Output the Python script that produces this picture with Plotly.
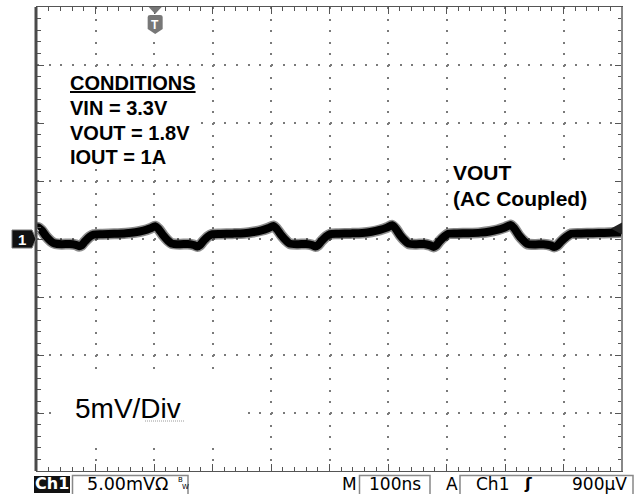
import plotly.graph_objects as go

# ---------------- data ----------------
time_ns = [0, 2, 8, 16, 24, 30, 42, 56, 66, 72, 76, 82, 90, 97, 112, 132, 152, 168, 182, 194,
           202, 208, 216, 224, 230, 244, 258, 268, 274, 278, 284, 292, 299, 314, 334, 354, 370, 384, 396,
           404, 410, 418, 426, 432, 446, 460, 470, 476, 480, 486, 494, 501, 516, 536, 556, 572, 586, 598,
           607, 613, 621, 629, 635, 648, 662, 672, 678, 682, 688, 696, 703, 718, 738, 758, 774, 788, 800,
           810, 816, 824, 832, 838, 852, 866, 878, 884, 889, 896, 905, 913, 930, 950, 970, 990, 1000]
vout_mv = [0.95, 1.0, 0.75, 0.2, -0.2, -0.38, -0.45, -0.43, -0.5, -0.62, -0.55, -0.2, 0.2, 0.38, 0.42, 0.45, 0.5, 0.58, 0.72, 0.92,
           1.1, 0.85, 0.3, -0.15, -0.38, -0.45, -0.43, -0.52, -0.65, -0.55, -0.2, 0.2, 0.4, 0.43, 0.46, 0.5, 0.6, 0.75, 0.95,
           1.12, 0.85, 0.3, -0.15, -0.4, -0.45, -0.43, -0.52, -0.65, -0.55, -0.2, 0.2, 0.42, 0.45, 0.48, 0.52, 0.62, 0.78, 0.98,
           1.18, 0.9, 0.3, -0.15, -0.4, -0.45, -0.43, -0.55, -0.68, -0.58, -0.2, 0.2, 0.45, 0.48, 0.5, 0.55, 0.65, 0.8, 1.0,
           1.2, 0.9, 0.3, -0.15, -0.42, -0.47, -0.45, -0.55, -0.68, -0.58, -0.2, 0.2, 0.45, 0.48, 0.5, 0.52, 0.55, 0.58]

x_range_ns = [0, 1000]      # 10 div x 100 ns/div
y_range_mv = [-20, 20]      # 8 div x 5 mV/div
x_div_ns = 100
y_div_mv = 5
trigger_time_ns = 202
trigger_level_mv = 0.9
ch1_offset_mv = 0

condition_lines = ["CONDITIONS", "VIN = 3.3V", "VOUT = 1.8V", "IOUT = 1A"]
trace_label = ["VOUT", "(AC Coupled)"]
scale_label = "5mV/Div"
status_ch = "Ch1"
status_vdiv = "5.00mVΩ"
status_mode = "M"
status_time = "100ns"
status_trig_mode = "A"
status_trig_src = "Ch1"
status_trig_level = "900µV"

# ---------------- layout geometry ----------------
W, H = 635, 494
L, R, T, B = 37, 622, 7, 471


def px(x):
    return (x - L) / (R - L)


def py(y):
    return (B - y) / (B - T)


ARIAL = "Liberation Sans, Arial, sans-serif"
SCOPE = "DejaVu Sans, sans-serif"

fig = go.Figure()
fig.add_trace(go.Scatter(x=time_ns, y=vout_mv, mode="lines",
                         line=dict(color="rgba(0,0,0,0.45)", width=11, shape="spline", smoothing=0.7),
                         hoverinfo="skip", showlegend=False))
fig.add_trace(go.Scatter(x=time_ns, y=vout_mv, mode="lines",
                         line=dict(color="#000000", width=8, shape="spline", smoothing=0.7),
                         showlegend=False))

axis_common = dict(showline=True, linecolor="#555", linewidth=1, mirror="ticks",
                   showticklabels=False, zeroline=False,
                   ticks="inside", ticklen=7, tickcolor="#555", tickwidth=1,
                   gridcolor="#7a7a7a", gridwidth=2)
fig.update_xaxes(range=x_range_ns, dtick=x_div_ns, tick0=0, griddash="2px,9.6px",
                 minor=dict(dtick=x_div_ns / 5, ticks="inside", ticklen=4, tickcolor="#555", showgrid=False),
                 **axis_common)
fig.update_yaxes(range=y_range_mv, dtick=y_div_mv, tick0=0, griddash="2px,9.7px",
                 minor=dict(dtick=y_div_mv / 5, ticks="inside", ticklen=4, tickcolor="#555", showgrid=False),
                 **axis_common)

shapes = []
# white boxes behind the text labels
for (x0, y0, x1, y1) in [(45, 70, 200, 165), (450, 160, 612, 213), (52, 378, 245, 442)]:
    shapes.append(dict(type="rect", xref="paper", yref="paper", x0=px(x0), x1=px(x1),
                       y0=py(y1), y1=py(y0), fillcolor="white", line=dict(width=0), layer="above"))
# thick left border and slightly heavier right border
shapes.append(dict(type="line", xref="paper", yref="paper", x0=px(36), x1=px(36), y0=0, y1=1,
                   line=dict(color="#4a4a4a", width=3), layer="above"))
shapes.append(dict(type="line", xref="paper", yref="paper", x0=1, x1=1, y0=0, y1=1,
                   line=dict(color="#888", width=2), layer="above"))
# spell-check squiggle under "Div"
shapes.append(dict(type="line", xref="paper", yref="paper", x0=px(145), x1=px(185), y0=py(421), y1=py(421),
                   line=dict(color="#9a9a9a", width=1, dash="1px,1px"), layer="above"))
# channel 1 ground marker
shapes.append(dict(type="path", xref="paper", yref="y", xsizemode="pixel", ysizemode="pixel",
                   xanchor=0, yanchor=ch1_offset_mv,
                   path="M-25,9 L-5,9 L-1,0 L-5,-9 L-25,-9 Z",
                   fillcolor="#111", line=dict(color="#777", width=1), layer="above"))
# trigger level marker on the right edge
shapes.append(dict(type="path", xref="x", yref="y", xsizemode="pixel", ysizemode="pixel",
                   xanchor=x_range_ns[1], yanchor=trigger_level_mv,
                   path="M0,6 L0,-6 L-11,0 Z", fillcolor="#222", line=dict(width=0), layer="above"))
# trigger position marker "T"
shapes.append(dict(type="path", xref="x", yref="paper", xsizemode="pixel", ysizemode="pixel",
                   xanchor=trigger_time_ns, yanchor=1,
                   path="M-6.5,0 L6.5,0 L0,-7 Z", fillcolor="#777", line=dict(width=0), layer="above"))
shapes.append(dict(type="path", xref="x", yref="paper", xsizemode="pixel", ysizemode="pixel",
                   xanchor=trigger_time_ns, yanchor=1,
                   path="M-7.5,-10 Q-7.5,-8 -5,-8 L5,-8 Q7.5,-8 7.5,-10 L7.5,-22 L0,-27 L-7.5,-22 Z",
                   fillcolor="#777", line=dict(width=0), layer="above"))
# status bar boxes
shapes.append(dict(type="rect", xref="paper", yref="paper", x0=px(34), x1=px(70), y0=py(493), y1=py(476),
                   fillcolor="#111", line=dict(width=0)))
for (x0, x1) in [(72.5, 188), (359.5, 430), (460, 633)]:
    shapes.append(dict(type="rect", xref="paper", yref="paper", x0=px(x0), x1=px(x1), y0=py(496), y1=py(475.5),
                       fillcolor="rgba(0,0,0,0)", line=dict(color="#888", width=1.5)))

ann = []


def text(x, y, s, size, family=ARIAL, color="black", xanchor="left", bold=False):
    ann.append(dict(xref="paper", yref="paper", x=px(x), y=py(y), text=("<b>%s</b>" % s) if bold else s,
                    showarrow=False, xanchor=xanchor, yanchor="middle",
                    font=dict(family=family, size=size, color=color)))


text(68, 83, "<u>%s</u>" % condition_lines[0], 20, bold=True)
text(68, 108, condition_lines[1], 20, bold=True)
text(68, 132.5, condition_lines[2], 20, bold=True)
text(68, 156.5, condition_lines[3], 20, bold=True)
text(451, 172, trace_label[0], 21, bold=True)
text(451, 198, trace_label[1], 21, bold=True)
text(73, 408, scale_label, 28)

# marker glyphs
ann.append(dict(xref="paper", yref="y", x=0, y=ch1_offset_mv, xshift=-15, text="<b>1</b>", showarrow=False,
                xanchor="center", yanchor="middle", font=dict(family=ARIAL, size=15, color="white")))
ann.append(dict(xref="x", yref="paper", x=trigger_time_ns, y=1, yshift=-17.5, text="<b>T</b>", showarrow=False,
                xanchor="center", yanchor="middle", font=dict(family=ARIAL, size=12, color="white")))

# status bar
text(52, 484, status_ch, 16, family=SCOPE, color="white", xanchor="center", bold=True)
text(85, 484, status_vdiv, 17.5, family=SCOPE)
text(176, 480, "B", 7, family=SCOPE)
text(180, 487, "W", 7, family=SCOPE)
text(349.5, 484, status_mode, 17, family=SCOPE, xanchor="center")
text(395, 484, status_time, 17, family=SCOPE, xanchor="center")
text(452, 484, status_trig_mode, 17, family=SCOPE, xanchor="center")
text(474, 484, status_trig_src, 17, family=SCOPE)
text(528, 484, "<b>ʃ</b>", 16, family=SCOPE, xanchor="center")
text(629, 484, status_trig_level, 17, family=SCOPE, xanchor="right")

fig.update_layout(width=W, height=H, margin=dict(l=L, r=W - R, t=T, b=H - B),
                  paper_bgcolor="white", plot_bgcolor="white",
                  shapes=shapes, annotations=ann, showlegend=False)

# remove the browser's default 8px body margin so the figure sits at the page origin
fig.write_html("out.html", config={"displayModeBar": False},
               post_script="document.body.style.margin='0px';")
